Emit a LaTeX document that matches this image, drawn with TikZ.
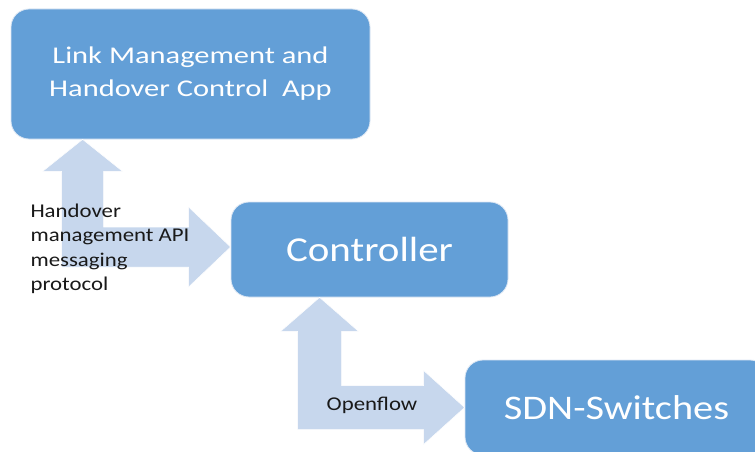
\documentclass[tikz,border=0pt]{standalone}
\usepackage{fontspec}
\setmainfont{Carlito}[FakeStretch=1.17]
\newfontfamily\widefont{Carlito}[FakeStretch=1.27]
\usetikzlibrary{calc}
\definecolor{boxblue}{RGB}{99,159,215}
\definecolor{arrowblue}{RGB}{199,215,237}
\definecolor{edgegrey}{RGB}{222,232,244}

\begin{document}
\begin{tikzpicture}[x=1pt, y=-1pt,
	box/.style = {draw=edgegrey, line width=0.8pt, fill=boxblue, rounded corners=18pt, text=white, align=center},
	flow/.style = {fill=arrowblue, draw=white, line width=0.5pt},
	note/.style = {text=black!90, font=\fontsize{19.5}{24.5}\selectfont, align=left}]
	\clip (0,0) rectangle (755,452);
	\fill[white] (0,0) rectangle (755,452);
	% boxes
	\node[box, minimum width=359pt, minimum height=130pt, font=\widefont\fontsize{24}{33}\selectfont] (app) at (190.5,74) {Link Management and\\Handover Control~~App};
	\node[box, minimum width=277pt, minimum height=95pt, font=\fontsize{35}{40}\selectfont] (ctrl) at (369.5,249.5) {Controller};
	\node[box, minimum width=303pt, minimum height=95pt, font=\fontsize{34.5}{38}\selectfont] (sdn) at (616.5,407.5) {SDN-Switches};
	% tips of the bent arrows
	\coordinate (t1) at ([xshift=72pt]app.south west);
	\coordinate (t2) at ([yshift=2.5pt]ctrl.west);
	\coordinate (t3) at ([xshift=89pt]ctrl.south west);
	\coordinate (t4) at (sdn.west);
	% app <-> controller
	\fill[flow] (t1) -- ++(40,32) -- ++(-19,0) -- ($(t1 |- t2)+(21,-20)$) -- ($(t2)+(-42,-20)$) -- ++(0,-20) -- (t2)
		-- ++(-42,40) -- ++(0,-20) -- ($(t1 |- t2)+(-21,20)$) -- ($(t1)+(-21,32)$) -- ++(-19,0) -- cycle;
	% controller <-> switches
	\fill[flow] (t3) -- ++(39,34) -- ++(-17,0) -- ($(t3 |- t4)+(22,-22)$) -- ($(t4)+(-41,-22)$) -- ++(0,-15) -- (t4)
		-- ++(-41,37) -- ++(0,-15) -- ($(t3 |- t4)+(-22,22)$) -- ($(t3)+(-22,34)$) -- ++(-17,0) -- cycle;
	% labels
	\node[note, anchor=west] (api) at (27,249) {Handover\\management API\\messaging\\protocol};
	\node[note] (of) at (372,405) {Openflow};
\end{tikzpicture}
\end{document}
